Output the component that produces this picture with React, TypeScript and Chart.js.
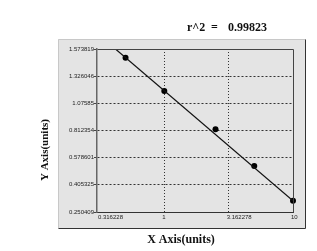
import React, { useEffect, useRef } from "react";
import { Chart, registerables } from "chart.js";

Chart.register(...registerables);

// ---- data ----
const xTickValues = [0.316228, 1, 3.162278, 10];
const xTickLabels = ["0.316228", "1", "3.162278", "10"];
const yTickLabels = ["0.250409", "0.405325", "0.578601", "0.812354", "1.07585", "1.326046", "1.573819"];
const yMin = 0.250409;
const yMax = 1.573819;
const pointX = [0.5, 1, 2.5, 5, 10];
const pointY = [1.503, 1.233, 0.922, 0.624, 0.342];
const fitX = [0.4175, 10];
const fitY = [1.573819, 0.342];
const titleParts = ["r^2", "=", "0.99823"];
const xTitle = "X Axis(units)";
const yTitle = "Y Axis(units)";

const framePlugin = {
  id: "frame",
  beforeDraw(chart: any) {
    const ctx = chart.ctx;
    ctx.save();
    ctx.fillStyle = "#ffffff";
    ctx.fillRect(0, 0, chart.width, chart.height);
    ctx.fillStyle = "#e4e4e4";
    ctx.fillRect(58, 39, 247, 189);
    ctx.lineWidth = 1;
    ctx.strokeStyle = "#c8c8c8";
    ctx.beginPath();
    ctx.moveTo(58.5, 228.5);
    ctx.lineTo(58.5, 39.5);
    ctx.lineTo(305.5, 39.5);
    ctx.stroke();
    ctx.strokeStyle = "#333333";
    ctx.beginPath();
    ctx.moveTo(305.5, 39.5);
    ctx.lineTo(305.5, 228.5);
    ctx.lineTo(58.5, 228.5);
    ctx.stroke();
    ctx.restore();
  },
  afterDraw(chart: any) {
    const ctx = chart.ctx;
    const a = chart.chartArea;
    ctx.save();
    ctx.strokeStyle = "#444444";
    ctx.lineWidth = 1;
    ctx.beginPath();
    ctx.moveTo(Math.round(a.left) + 0.5, Math.round(a.top) + 0.5);
    ctx.lineTo(Math.round(a.right) + 0.5, Math.round(a.top) + 0.5);
    ctx.lineTo(Math.round(a.right) + 0.5, Math.round(a.bottom) + 0.5);
    ctx.stroke();

    ctx.fillStyle = "#111111";
    ctx.font = 'bold 12px "Liberation Serif"';
    ctx.textBaseline = "alphabetic";
    ctx.textAlign = "left";
    ctx.fillText(titleParts[0], 187, 31);
    ctx.fillText(titleParts[1], 211, 31);
    ctx.textAlign = "right";
    ctx.fillText(titleParts[2], 267, 31);

    ctx.textAlign = "center";
    ctx.fillText(xTitle, 181, 243);

    ctx.font = 'bold 11px "Liberation Serif"';
    ctx.translate(47.5, 150);
    ctx.rotate(-Math.PI / 2);
    ctx.fillText(yTitle, 0, 0);
    ctx.restore();
  },
};

export default function App() {
  const ref = useRef<HTMLCanvasElement | null>(null);

  useEffect(() => {
    if (!ref.current) return;
    const yStep = (yMax - yMin) / (yTickLabels.length - 1);
    const chart = new Chart(ref.current, {
      type: "scatter",
      data: {
        datasets: [
          {
            type: "line",
            data: fitX.map((x, i) => ({ x, y: fitY[i] })),
            borderColor: "#111111",
            borderWidth: 1.2,
            pointRadius: 0,
            fill: false,
          } as any,
          {
            data: pointX.map((x, i) => ({ x, y: pointY[i] })),
            backgroundColor: "#000000",
            borderColor: "#000000",
            borderWidth: 0,
            pointRadius: 3,
            clip: false,
          } as any,
        ],
      },
      options: {
        animation: false,
        responsive: false,
        devicePixelRatio: 1,
        layout: { padding: { left: 57, right: 24, top: 49, bottom: 24 } },
        plugins: { legend: { display: false }, tooltip: { enabled: false }, title: { display: false } },
        scales: {
          x: {
            type: "logarithmic",
            min: xTickValues[0],
            max: xTickValues[xTickValues.length - 1],
            afterBuildTicks: (s: any) => {
              s.ticks = xTickValues.map((v) => ({ value: v }));
            },
            afterFit: (s: any) => {
              s.height = 15;
            },
            ticks: {
              callback: (_v: any, i: number) => xTickLabels[i],
              font: { size: 6, family: '"Liberation Sans"' },
              color: "#222222",
              align: "start",
              labelOffset: -2,
              padding: 0,
              maxRotation: 0,
              autoSkip: false,
            },
            grid: {
              color: (c: any) => (c.index === 0 || c.index === xTickValues.length - 1 ? "rgba(0,0,0,0)" : "#333333"),
              tickColor: "rgba(0,0,0,0)",
              tickLength: 2,
              lineWidth: 1,
            },
            border: { color: "#333333", width: 1, dash: [1, 2] },
          },
          y: {
            type: "linear",
            min: yMin,
            max: yMax,
            afterBuildTicks: (s: any) => {
              s.ticks = yTickLabels.map((_l, i) => ({ value: yMin + i * yStep }));
            },
            afterFit: (s: any) => {
              s.width = 40;
            },
            ticks: {
              callback: (_v: any, i: number) => yTickLabels[i],
              font: { size: 6, family: '"Liberation Sans"' },
              color: "#222222",
              padding: 0,
              autoSkip: false,
            },
            grid: {
              color: (c: any) => (c.index === 0 || c.index === yTickLabels.length - 1 ? "rgba(0,0,0,0)" : "#333333"),
              tickColor: "#444444",
              tickLength: 3,
              lineWidth: 1,
            },
            border: { color: "#666666", width: 1.5, dash: [2, 2] },
          },
        },
      },
      plugins: [framePlugin],
    } as any);
    return () => chart.destroy();
  }, []);

  return (
    <div style={{ position: "absolute", left: 0, top: 0, width: 317, height: 251 }}>
      <canvas ref={ref} width={317} height={251} style={{ display: "block" }} />
    </div>
  );
}
